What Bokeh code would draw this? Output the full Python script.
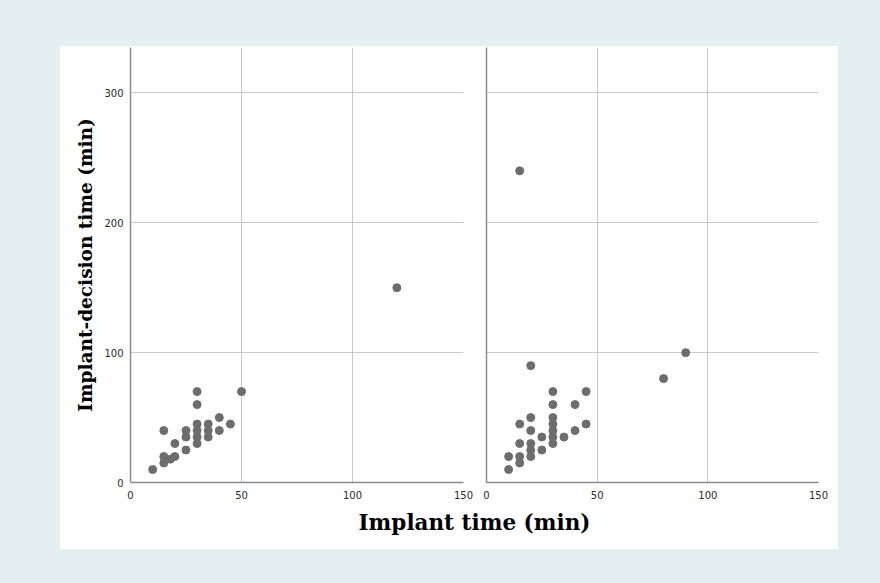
from bokeh.plotting import figure
from bokeh.layouts import row, column
from bokeh.models import FixedTicker, Range1d, Label
from bokeh.embed import file_html
from bokeh.resources import INLINE

# ---- data ----
left_implant = [10, 15, 15, 15, 18, 20, 20, 25, 25, 25, 30, 30, 30, 30, 30, 30, 35, 35, 35, 40, 40, 45, 50, 120]
left_decision = [10, 15, 20, 40, 18, 20, 30, 25, 35, 40, 30, 35, 40, 45, 60, 70, 35, 40, 45, 40, 50, 45, 70, 150]

right_implant = [10, 10, 15, 15, 15, 15, 15, 20, 20, 20, 20, 20, 20, 25, 25, 30, 30, 30, 30, 30, 30, 30, 35, 40, 40, 45, 45, 80, 90]
right_decision = [10, 20, 15, 20, 30, 45, 240, 20, 25, 30, 40, 50, 90, 25, 35, 30, 35, 40, 45, 50, 60, 70, 35, 40, 60, 45, 70, 80, 100]

x_ticks = [0, 50, 100, 150]
y_ticks = [0, 100, 200, 300]
x_title = "Implant time (min)"
y_title = "Implant-decision time (min)"

LB = "#e4eff2"
DOT = "#6d6d6d"
GRID = "#c8c8c8"
AXIS = "#8c8c8c"
TICKFONT = "DejaVu Sans"
SERIF = "DejaVu Serif"


def make_panel(xs, ys, width, left, right, show_ylabels):
    p = figure(width=width, height=459, x_range=Range1d(0, 150), y_range=Range1d(0, 335),
               toolbar_location=None, output_backend="svg",
               min_border_left=left, min_border_right=right,
               min_border_top=1, min_border_bottom=23)
    p.background_fill_color = "white"
    p.border_fill_color = "white"
    p.outline_line_color = None
    p.scatter(xs, ys, size=8, fill_color=DOT, line_color=DOT)
    p.xaxis.ticker = FixedTicker(ticks=x_ticks)
    p.yaxis.ticker = FixedTicker(ticks=y_ticks)
    for ax in (p.xaxis, p.yaxis):
        ax.axis_line_color = AXIS
        ax.axis_line_width = 1.5
        ax.major_tick_line_color = None
        ax.minor_tick_line_color = None
        ax.major_label_text_font = TICKFONT
        ax.major_label_text_font_size = "10px"
        ax.major_label_text_color = "#2b2b2b"
    p.xaxis.major_label_standoff = 2
    p.yaxis.major_label_standoff = 1
    if not show_ylabels:
        p.yaxis.major_label_text_color = None
    else:
        p.yaxis.axis_label = y_title
        p.yaxis.axis_label_text_font = SERIF
        p.yaxis.axis_label_text_font_style = "bold"
        p.yaxis.axis_label_text_font_size = "18.5px"
        p.yaxis.axis_label_text_color = "black"
        p.yaxis.axis_label_standoff = 5
    p.xgrid.ticker = FixedTicker(ticks=[50, 100, 150])
    p.ygrid.ticker = FixedTicker(ticks=y_ticks)
    p.grid.grid_line_color = GRID
    p.grid.grid_line_width = 1
    return p


p1 = make_panel(left_implant, left_decision, 414, 70, 11, True)
p2 = make_panel(right_implant, right_decision, 364, 12, 20, False)

p3 = figure(width=778, height=44, toolbar_location=None, output_backend="svg",
            x_range=Range1d(0, 1), y_range=Range1d(0, 1),
            min_border=0, min_border_left=0, min_border_right=0,
            min_border_top=0, min_border_bottom=0)
p3.axis.visible = False
p3.grid.visible = False
p3.outline_line_color = None
p3.background_fill_color = "white"
p3.border_fill_color = "white"
p3.add_layout(Label(x=414, y=27, x_units="screen", y_units="screen", text=x_title,
                    text_align="center", text_baseline="middle", text_font=SERIF,
                    text_font_style="bold", text_font_size="21.5px", text_color="black"))

top_row = row(p1, p2, styles={"background-color": "white"})
inner = column(top_row, p3, margin=(46, 0, 0, 60), styles={"background-color": "white"})
layout = column(inner, width=880, height=583, styles={"background-color": LB})

open("out.html", "w").write(file_html(layout, INLINE))
